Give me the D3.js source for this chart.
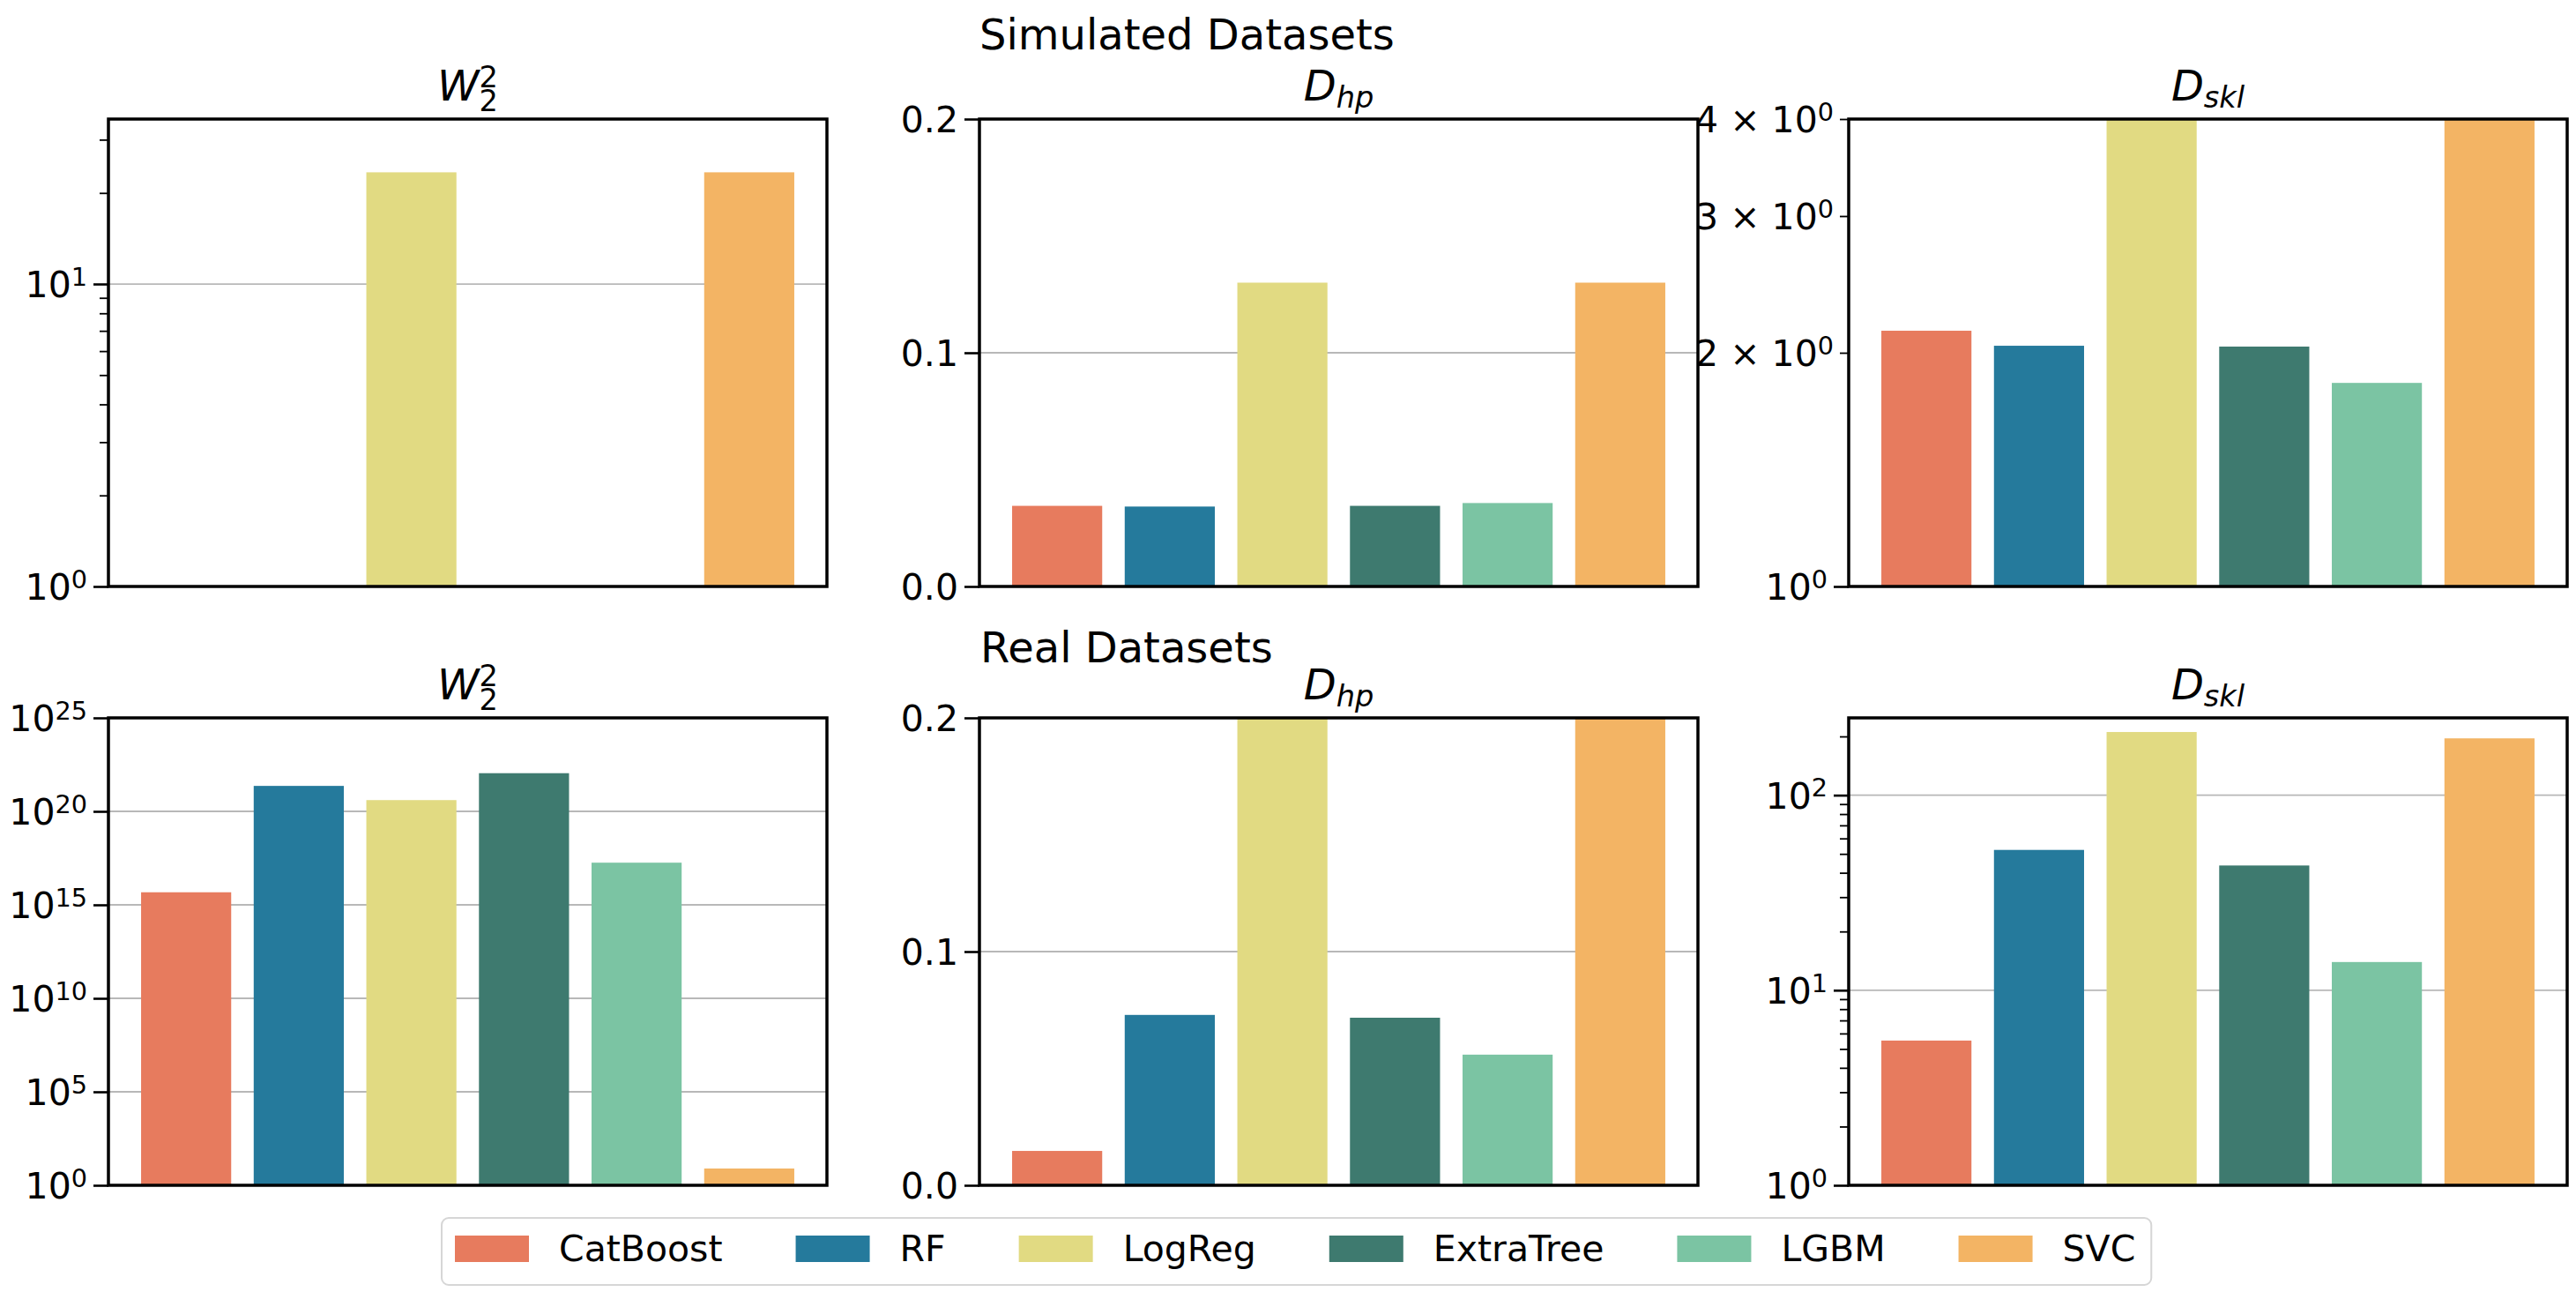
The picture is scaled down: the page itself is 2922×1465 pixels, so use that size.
<html>
<head>
<meta charset="utf-8">
<title>Simulated / Real Datasets</title>
<style>
    body{margin:0;background:#fff;}
    text{font-family:"DejaVu Sans",sans-serif;fill:#000;}
</style>
</head>
<body>
<script src="https://cdn.jsdelivr.net/npm/d3@7"></script>
<script>
    var width=2922;
    var height=1465;

    var models=["CatBoost","RF","LogReg","ExtraTree","LGBM","SVC"];
    var colors=["#e77b5e","#257a9c","#e1da82","#3e7a6f","#7bc4a3","#f3b464"];

    //Simulated datasets (clipped bars are estimates)
    var simW2=[0.6,0.6,23.4,0.6,0.6,23.4];
    var simDhp=[0.0345,0.0342,0.130,0.0345,0.0357,0.130];
    var simDskl=[2.135,2.042,5.0,2.037,1.829,5.0];
    //Real datasets
    var realW2=[4.7e15,2.3e21,4.0e20,1.1e22,1.8e17,7.9];
    var realDhp=[0.0147,0.0729,0.25,0.0717,0.0559,0.25];
    var realDskl=[5.52,52.4,210.7,43.6,13.95,195.5];

    //tick values and labels
    var simW2Ticks=[1,10], simW2Labels=["10^0","10^1"];
    var simW2Minor=[2,3,4,5,6,7,8,9,20,30];
    var realW2Ticks=[1,1e5,1e10,1e15,1e20,1e25];
    var realW2Labels=["10^0","10^5","10^10","10^15","10^20","10^25"];
    var dhpTicks=[0,0.1,0.2], dhpLabels=["0.0","0.1","0.2"];
    var simDsklTicks=[1], simDsklLabels=["10^0"];
    var simDsklMinor=[2,3,4], simDsklMinorLabels=["2 × 10^0","3 × 10^0","4 × 10^0"];
    var realDsklTicks=[1,10,100], realDsklLabels=["10^0","10^1","10^2"];
    var realDsklMinor=[2,3,4,5,6,7,8,9,20,30,40,50,60,70,80,90,200];

    var svg=d3.select('body')
            .append('svg')
            .attr('width',width)
            .attr('height',height);

    var colX=[123,1111,2097];
    var rowY=[135,814];
    var pw=815, ph=530;

    var panels=[
        {col:0,row:0,values:simW2,log:true,domain:[1,35.1],ticks:simW2Ticks,labels:simW2Labels,minor:simW2Minor,title:{main:"W",sub:"2",sup:"2"}},
        {col:1,row:0,values:simDhp,log:false,domain:[0,0.2],ticks:dhpTicks,labels:dhpLabels,minor:[],title:{main:"D",sub:"hp"}},
        {col:2,row:0,values:simDskl,log:true,domain:[1,4],ticks:simDsklTicks,labels:simDsklLabels,minor:simDsklMinor,minorLabels:simDsklMinorLabels,title:{main:"D",sub:"skl"}},
        {col:0,row:1,values:realW2,log:true,domain:[1,1e25],ticks:realW2Ticks,labels:realW2Labels,minor:[],title:{main:"W",sub:"2",sup:"2"}},
        {col:1,row:1,values:realDhp,log:false,domain:[0,0.2],ticks:dhpTicks,labels:dhpLabels,minor:[],title:{main:"D",sub:"hp"}},
        {col:2,row:1,values:realDskl,log:true,domain:[1,249],ticks:realDsklTicks,labels:realDsklLabels,minor:realDsklMinor,title:{main:"D",sub:"skl"}}
    ];

    var fs=41;

    //"10^5" -> 10 with a superscript
    function mathLabel(text,label){
        text.text(null);
        var m=label.match(/^(.*)\^(.+)$/);
        if(!m){ text.text(label); return; }
        text.append("tspan").text(m[1]);
        text.append("tspan").attr("font-size",fs*0.7).attr("dy",-13.5).text(m[2]);
    }

    function styleAxis(ag,size,w){
        ag.select(".domain").remove();
        ag.attr("font-family",null).attr("font-size",fs);
        ag.selectAll(".tick line").attr("stroke","#000").attr("stroke-width",w);
        ag.selectAll(".tick text").attr("dy","0.36em").each(function(){
            var t=d3.select(this);
            mathLabel(t,t.text());
        });
    }

    panels.forEach(function(p){
        var g=svg.append("g")
                .attr("transform","translate("+colX[p.col]+","+rowY[p.row]+")");

        var xScale=d3.scaleBand()
                .domain(d3.range(models.length))
                .range([0,pw])
                .paddingInner(0.2)
                .paddingOuter(0.29);
        var yScale=(p.log?d3.scaleLog():d3.scaleLinear())
                .domain(p.domain)
                .range([ph,0])
                .clamp(true);

        //网格线
        g.selectAll(".grid")
                .data(p.ticks)
                .enter()
                .append("line")
                .attr("x1",0).attr("x2",pw)
                .attr("y1",function(d){return yScale(d);})
                .attr("y2",function(d){return yScale(d);})
                .attr("stroke","#b8b8b8")
                .attr("stroke-width",1.8);

        //柱子
        g.selectAll(".bar")
                .data(p.values)
                .enter()
                .append("rect")
                .attr("x",function(d,i){return xScale(i);})
                .attr("y",function(d){return yScale(d);})
                .attr("width",xScale.bandwidth())
                .attr("height",function(d){return ph-yScale(d);})
                .attr("fill",function(d,i){return colors[i];});

        //minor ticks
        if(p.minor.length){
            var minorAxis=d3.axisLeft(yScale)
                    .tickValues(p.minor)
                    .tickSize(10)
                    .tickPadding(7)
                    .tickFormat(function(d,i){return p.minorLabels?p.minorLabels[i]:"";});
            var mg=g.append("g").call(minorAxis);
            styleAxis(mg,10,1.8);
        }

        var yAxis=d3.axisLeft(yScale)
                .tickValues(p.ticks)
                .tickSize(17)
                .tickPadding(7)
                .tickFormat(function(d,i){return p.labels[i];});
        var ag=g.append("g").call(yAxis);
        styleAxis(ag,17,2.6);

        //边框
        g.append("rect")
                .attr("width",pw)
                .attr("height",ph)
                .attr("fill","none")
                .attr("stroke","#000")
                .attr("stroke-width",3.5);

        //标题
        var t=g.append("text")
                .attr("x",pw/2)
                .attr("y",-21)
                .attr("text-anchor","middle")
                .attr("font-size",48);
        t.append("tspan").attr("font-style","italic").text(p.title.main);
        var sub=t.append("tspan")
                .attr("font-size",33.6)
                .attr("font-style",/\d/.test(p.title.sub)?"normal":"italic")
                .attr("dy",p.title.sup?12:7.5)
                .text(p.title.sub);
        if(p.title.sup){
            var sw=sub.node().getComputedTextLength();
            t.append("tspan")
                    .attr("font-size",33.6)
                    .attr("dx",-sw)
                    .attr("dy",-27.5)
                    .text(p.title.sup);
        }
    });

    svg.append("text").attr("x",1111).attr("y",56).attr("font-size",48).text("Simulated Datasets");
    svg.append("text").attr("x",1112).attr("y",751).attr("font-size",48).text("Real Datasets");

    //图例
    var legend=svg.append("g");
    var box=legend.append("rect")
            .attr("x",501).attr("y",1381)
            .attr("height",76)
            .attr("rx",8).attr("ry",8)
            .attr("fill","#fff")
            .attr("stroke","#d6d6d6")
            .attr("stroke-width",2);
    var lx=516;
    models.forEach(function(m,i){
        legend.append("rect")
                .attr("x",lx).attr("y",1401)
                .attr("width",84).attr("height",30)
                .attr("fill",colors[i]);
        var lt=legend.append("text")
                .attr("x",lx+118).attr("y",1429.5)
                .attr("font-size",fs)
                .text(m);
        lx=lx+118+lt.node().getComputedTextLength()+83;
    });
    box.attr("width",lx-83+18-501);
</script>
</body>
</html>
